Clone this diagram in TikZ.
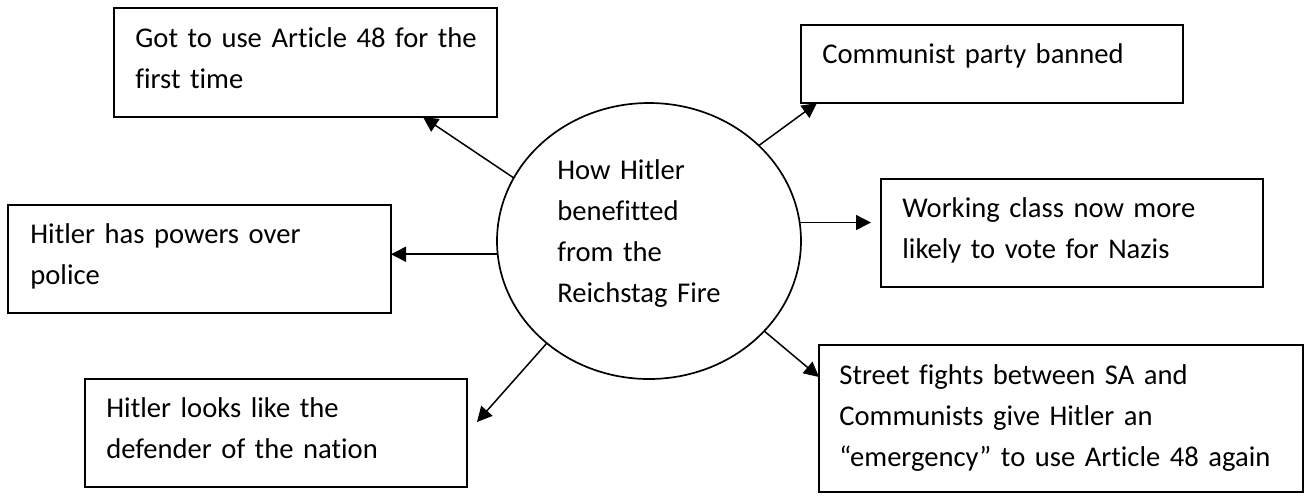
\documentclass[tikz,border=0pt]{standalone}
\usepackage{fontspec}
\setmainfont{Carlito}[Ligatures={NoCommon}, WordSpace=0.82]
\usepackage{tikz}
\usetikzlibrary{calc}
\usetikzlibrary{shapes}
\usetikzlibrary{arrows.meta}
\tikzset{
  box/.style = {draw, line width=1pt, rectangle, anchor=north west, inner sep=0pt, outer sep=0pt},
  txt/.style = {anchor=base west, inner sep=0pt, align=left, text width=240pt,
                font=\fontsize{14.3pt}{20.6pt}\selectfont},
  arr/.style = {line width=0.75pt, -{Triangle[length=7.5pt, width=7.5pt]}},
}

\begin{document}
\begin{tikzpicture}[x=0.5pt, y=-0.5pt]
          \useasboundingbox (0,0) rectangle (1307,495);
          \node[draw, ellipse, line width=0.85pt, minimum width=152pt, minimum height=138pt,
                inner sep=0pt, outer sep=0pt] (hub) at (649,241) {};
          \node[txt] (hubtext) at (557,179) {How Hitler\\benefitted\\from the\\Reichstag Fire};

          \node[box, minimum width=191.5pt, minimum height=54.5pt] (b1) at (114,8) {};
          \node[box, minimum width=191pt, minimum height=39pt] (b2) at (801,25) {};
          \node[box, minimum width=191pt, minimum height=54pt] (b3) at (881,179) {};
          \node[box, minimum width=242pt, minimum height=73.5pt] (b4) at (819,345) {};
          \node[box, minimum width=191.5pt, minimum height=54pt] (b5) at (8,205) {};
          \node[box, minimum width=191pt, minimum height=54pt] (b6) at (85,379) {};

          \node[txt] (t1) at ([xshift=10.5pt, yshift=-19.5pt]b1.north west) {Got to use Article 48 for the\\first time};
          \node[txt] (t2) at ([xshift=10.5pt, yshift=-19pt]b2.north west) {Communist party banned};
          \node[txt] (t3) at ([xshift=10.5pt, yshift=-19pt]b3.north west) {Working class now more\\likely to vote for Nazis};
          \node[txt] (t4) at ([xshift=10pt, yshift=-19.5pt]b4.north west) {Street fights between SA and\\Communists give Hitler an\\``emergency'' to use Article 48 again};
          \node[txt] (t5) at ([xshift=11pt, yshift=-19pt]b5.north west) {Hitler has powers over\\police};
          \node[txt] (t6) at ([xshift=10.5pt, yshift=-19pt]b6.north west) {Hitler looks like the\\defender of the nation};

          \draw[arr] (hub.155.6) -- ([xshift=154.5pt]b1.south west);
          \draw[arr] (hub.41.4) -- ([xshift=8pt]b2.south west);
          \draw[arr] (hub.7.6) -- ($(hub.7.6 -| b3.west)+(-10,0)$);
          \draw[arr] (hub.-38.6) -- ([yshift=-16pt]b4.north west);
          \draw[arr] (hub.185.3) -- (hub.185.3 -| b5.east);
          \draw[arr] (hub.225.8) -- ([xshift=5pt, yshift=5.5pt]b6.east);
        \end{tikzpicture}
\end{document}
